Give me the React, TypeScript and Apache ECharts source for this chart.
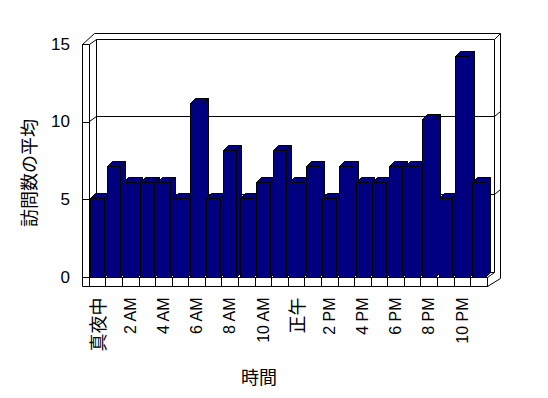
import React, { useEffect, useRef } from "react";
import * as echarts from "echarts";

const hours = [
  "真夜中", "1 AM", "2 AM", "3 AM", "4 AM", "5 AM", "6 AM", "7 AM", "8 AM", "9 AM", "10 AM", "11 AM",
  "正午", "1 PM", "2 PM", "3 PM", "4 PM", "5 PM", "6 PM", "7 PM", "8 PM", "9 PM", "10 PM", "11 PM",
];
const visits = [5, 7, 6, 6, 6, 5, 11, 5, 8, 5, 6, 8, 6, 7, 5, 7, 6, 6, 7, 7, 10, 5, 14, 6];
const gridValues = [5, 10];
const yMax = 15;
const yStep = 5;
const xTitle = "時間";
const yTitle = "訪問数の平均";

const LATIN = "'Liberation Sans', Arial, sans-serif";
const CJK = "'Noto Sans CJK JP', sans-serif";
const NAVY = "#000080";

const px = (n: number) => Math.round(n - 0.5) + 0.5;

export default function App() {
  const ref = useRef<HTMLDivElement>(null);
  useEffect(() => {
    if (!ref.current) return;
    const chart = echarts.init(ref.current, null, { renderer: "svg" });
    const L = (x1: number, y1: number, x2: number, y2: number) => ({
      type: "line",
      shape: { x1: px(x1), y1: px(y1), x2: px(x2), y2: px(y2) },
      style: { stroke: "#000", lineWidth: 1, fill: null },
    });
    const option: any = {
      animation: false,
      backgroundColor: "#fff",
      grid: [
        { left: 89, right: 61, top: 44, bottom: 120.5 },
        { left: 89, right: 61, top: 40.7, bottom: 121 },
      ],
      xAxis: [
        {
          type: "category",
          gridIndex: 0,
          data: hours,
          z: 3,
          axisLine: { show: true, lineStyle: { color: "#000", width: 1 } },
          axisTick: { show: true, interval: 0, length: 9, lineStyle: { color: "#000" } },
          axisLabel: {
            interval: 1,
            rotate: 90,
            margin: 20,
            color: "#000",
            fontSize: 16,
            fontFamily: LATIN,
            formatter: (v: string) => (/[^\x00-\x7F]/.test(v) ? `{c|${v}}` : v),
            rich: { c: { fontSize: 18, fontFamily: CJK, color: "#000" } },
          },
          splitLine: { show: false },
        },
        {
          type: "category",
          gridIndex: 1,
          data: hours,
          show: false,
        },
      ],
      yAxis: [
        {
          type: "value",
          gridIndex: 0,
          min: 0,
          max: yMax,
          interval: yStep,
          z: 3,
          axisLine: { show: false },
          axisTick: { show: true, length: 7, lineStyle: { color: "#000" } },
          axisLabel: { color: "#000", fontSize: 17, fontFamily: LATIN, margin: 19 },
          splitLine: { show: false },
        },
        {
          type: "value",
          gridIndex: 1,
          min: 0,
          max: yMax,
          show: false,
        },
      ],
      graphic: [
        {
          type: "text",
          x: 27.5,
          y: 173,
          rotation: Math.PI / 2,
          style: {
            text: yTitle,
            align: "center",
            verticalAlign: "middle",
            fontSize: 18,
            fontFamily: CJK,
            fill: "#000",
          },
        },
        {
          type: "text",
          x: 259,
          y: 376,
          style: {
            text: xTitle,
            align: "center",
            verticalAlign: "middle",
            fontSize: 18,
            fontFamily: CJK,
            fill: "#000",
          },
        },
      ],
      series: [
        {
          type: "custom",
          name: "frame",
          xAxisIndex: 0,
          yAxisIndex: 0,
          z: 1,
          silent: true,
          clip: false,
          data: [[0, 0]],
          renderItem: (params: any, api: any) => {
            const band = api.size([1, 0])[0];
            const c0 = api.coord([0, 0]);
            const xL = c0[0] - band / 2;
            const xR = xL + hours.length * band;
            const yF = c0[1];
            const yT = api.coord([0, yMax])[1];
            const wall = 7;
            const fb = 9;
            const children: any[] = [
              {
                type: "polygon",
                shape: {
                  points: [
                    [xL - wall, yT],
                    [xL - wall + 12, yT - 10.5],
                    [xR + 13, yT - 10.5],
                    [xR + 13, yF + 0.5],
                    [xR, yF + fb],
                    [xL - wall, yF + fb],
                  ].map((p) => [px(p[0]), px(p[1])]),
                },
                style: { fill: "#fff", stroke: "#000", lineWidth: 1 },
              },
              L(xL - wall, yT, xL, yT),
              L(xL, yT, xL, yF + fb),
              L(xL, yT, xL + 7, yT - 5),
              L(xL + 7, yT - 5, xR + 7, yT - 5),
              L(xL + 7, yT - 5, xL + 7, yF - 5),
              L(xR + 7, yT - 5, xR + 7, yF - 5),
              L(xR + 7, yT - 5, xR + 13, yT - 10.5),
              L(xL + 7, yF - 5, xR + 7, yF - 5),
              L(xL, yF, xL + 7, yF - 5),
              L(xR, yF, xR + 7, yF - 5),
              L(xR, yF, xR, yF + fb),
            ];
            gridValues.forEach((v) => {
              const y = api.coord([0, v])[1];
              children.push(
                L(xL, y, xL + 7, y - 5),
                L(xL + 7, y - 5, xR + 7, y - 5),
                L(xR + 7, y - 5, xR + 13, y - 10.5)
              );
            });
            return { type: "group", children };
          },
        },
        {
          type: "custom",
          name: "訪問数の平均",
          xAxisIndex: 1,
          yAxisIndex: 1,
          z: 5,
          clip: false,
          data: visits.map((v, i) => [i, v]),
          renderItem: (params: any, api: any) => {
            const i = api.value(0);
            const v = api.value(1);
            const top = api.coord([i, v]);
            const base = api.coord([i, 0]);
            const dx = 5;
            const dy = 5;
            const x0 = px(top[0] - 6.5);
            const x1 = px(top[0] + 7);
            const yT = px(top[1]);
            const yB = px(base[1]);
            const st = { fill: NAVY, stroke: "#000", lineWidth: 1 };
            return {
              type: "group",
              children: [
                { type: "rect", shape: { x: x0, y: yT, width: x1 - x0, height: yB - yT }, style: st },
                {
                  type: "polygon",
                  shape: { points: [[x0, yT], [x1, yT], [x1 + dx, yT - dy], [x0 + dx, yT - dy]] },
                  style: st,
                },
                {
                  type: "polygon",
                  shape: { points: [[x1, yT], [x1 + dx, yT - dy], [x1 + dx, yB - dy], [x1, yB]] },
                  style: st,
                },
              ],
            };
          },
        },
      ],
    };
    chart.setOption(option);
    return () => chart.dispose();
  }, []);
  return (
    <div
      ref={ref}
      style={{ position: "fixed", left: 0, top: 0, width: 548, height: 398, background: "#fff" }}
    />
  );
}
